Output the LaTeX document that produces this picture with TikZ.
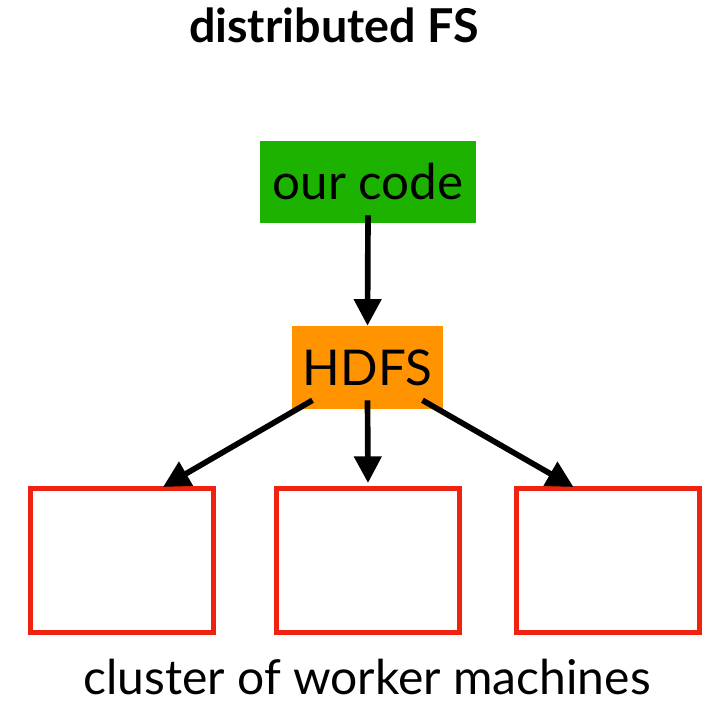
\documentclass[tikz,border=0pt]{standalone}
\usepackage{fontspec}
\setmainfont{Lato}
\usetikzlibrary{arrows.meta,calc}
\definecolor{codegreen}{RGB}{29,177,0}
\definecolor{hdfsorange}{RGB}{255,147,0}
\definecolor{workred}{RGB}{238,34,17}
\tikzset{
  filledbox/.style={inner sep=0pt, text=black, font=\fontsize{37}{44}\selectfont},
  worker/.style={draw=workred, line width=3.75pt, fill=white, minimum width=137.25pt, minimum height=108pt, inner sep=0pt},
  flow/.style={line width=4.25pt, -{Triangle[length=20pt,width=20pt]}},
  label/.style={inner sep=0pt, anchor=base},
}
\begin{document}
\begin{tikzpicture}[x=0.75pt,y=-0.75pt]
\useasboundingbox (0,0) rectangle (706,701);
\node[label, font=\bfseries\fontsize{35}{42}\selectfont] (title) at (334,42) {distributed FS};
\node[filledbox, fill=codegreen, minimum width=162pt, minimum height=61.5pt] (code) at (368,182) {our code};
\node[filledbox, fill=hdfsorange, minimum width=113.25pt, minimum height=62.25pt] (hdfs) at (367.5,367.5) {HDFS};
\node[worker] (w1) at (122,560.5) {};
\node[worker] (w2) at (368,560.5) {};
\node[worker] (w3) at (607.5,560.5) {};
\node[label, font=\fontsize{36}{43}\selectfont, text depth=0pt] (caption) at (367,694) {cluster of worker machines};
\draw[flow] ([yshift=6pt]code.south) -- (hdfs.north);
\draw[flow] ([shift={(-55,-9)}]hdfs.south) -- ([shift={(41,1)}]w1.north);
\draw[flow] ([shift={(0,-9)}]hdfs.south) -- ([shift={(0,-3)}]w2.north);
\draw[flow] ([shift={(55,-9)}]hdfs.south) -- ([shift={(-34,1)}]w3.north);
\end{tikzpicture}
\end{document}
